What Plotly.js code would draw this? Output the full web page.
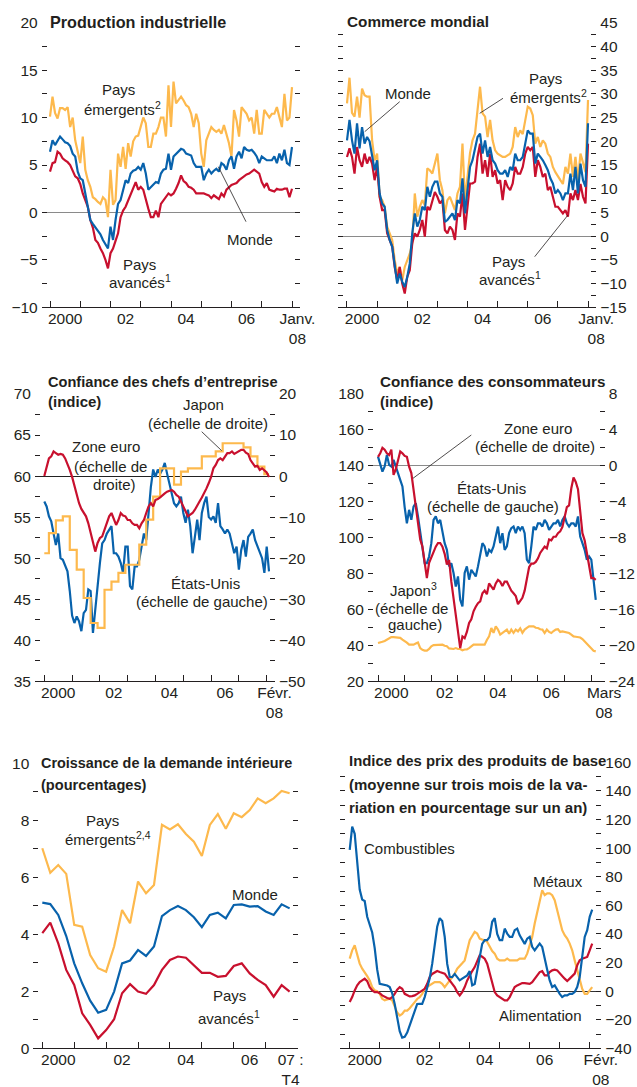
<!DOCTYPE html>
<html><head><meta charset="utf-8">
<script src="https://cdn.plot.ly/plotly-3.0.1.min.js"></script>
<style>html,body{margin:0;padding:0;background:#fff;}#chart{width:637px;height:1087px;}</style>
</head><body><div id="chart"></div>
<script>
// ---------- DATA (monthly from Jan 2000 unless noted) ----------
// Panel 1: Production industrielle (Jan 2000 - Jan 2008)
const prodEmergents = [
 10.1,12.2,10.5,9.9,11.0,11.0,10.8,11.1,9.0,10.0,7.6,6.2,
 5.2,8.0,4.5,3.4,2.7,1.6,1.4,1.1,0.9,1.6,1.3,-0.5,
 4.5,0.8,1.3,6.2,4.8,6.9,4.6,7.3,5.9,7.5,8.0,8.1,
 9.0,10.0,9.4,6.9,6.9,8.3,8.3,9.0,10.0,10.0,8.0,13.4,
 9.0,13.8,11.5,11.8,12.2,11.8,11.3,11.1,10.4,9.0,10.4,9.4,
 6.2,4.8,7.6,8.3,9.0,8.7,8.5,8.7,8.3,9.2,8.3,7.3,
 5.9,10.8,9.7,8.0,11.1,10.8,10.4,9.7,10.0,8.3,10.8,8.3,
 8.3,10.8,10.4,10.0,10.4,10.4,11.1,10.0,9.0,12.5,9.7,10.0,
 13.2];
const prodMonde = [
 6.4,7.6,7.1,7.5,8.0,7.7,7.4,7.3,7.0,6.2,5.9,4.3,
 3.6,3.4,2.0,1.0,-0.8,-1.2,-1.6,-2.0,-2.3,-2.9,-3.3,-3.8,
 -1.5,-2.9,-0.8,0.9,1.3,2.5,3.4,3.1,4.1,4.4,4.5,4.8,
 4.5,5.2,4.1,2.4,2.7,3.0,3.2,3.1,4.1,4.5,4.6,6.2,
 4.5,5.9,6.2,6.5,6.7,6.6,6.2,6.1,6.0,5.2,4.8,4.8,
 4.8,3.4,4.1,4.5,4.1,4.4,4.6,4.3,5.2,5.0,4.5,5.5,
 5.9,4.6,5.9,6.4,5.7,6.9,6.6,6.5,6.6,6.3,5.9,5.2,
 5.9,5.7,5.5,5.5,5.5,5.9,5.2,6.2,5.5,6.6,5.2,5.0,
 6.9];
const prodAvances = [
 4.3,5.2,5.3,6.4,6.2,5.7,5.5,5.3,5.0,4.3,3.8,3.6,
 3.0,2.0,1.2,0.6,-0.8,-1.6,-2.9,-3.2,-3.8,-4.3,-5.0,-5.9,
 -4.3,-3.8,-3.0,-2.2,-0.5,0.2,0.6,1.3,2.0,2.6,3.2,2.4,
 2.7,2.4,1.3,0.4,-0.5,-0.5,0.2,-0.5,0.9,1.3,1.6,2.0,
 1.8,2.0,2.5,3.1,3.9,3.3,3.1,2.7,2.6,2.4,2.0,2.0,
 2.0,2.0,1.9,1.8,1.5,1.8,1.6,1.4,2.0,1.7,2.4,2.7,
 2.9,3.0,3.1,3.4,3.6,3.8,4.0,4.1,4.3,4.5,4.3,4.1,
 3.2,2.7,3.1,2.4,2.3,2.2,2.5,2.4,2.4,2.5,2.5,1.6,
 2.5];
// Panel 2: Commerce mondial (Jan 2000 - Jan 2008)
const tradeEmergents = [
 28.0,33.4,26.0,25.2,29.4,25.0,31.1,29.7,29.4,29.4,20.2,16.0,
 17.4,8.3,7.6,6.2,2.0,0.6,-0.8,-5.0,-7.9,-6.5,-9.3,-6.5,
 -5.0,-3.7,-1.5,9.0,4.1,6.2,7.6,6.5,14.3,13.9,13.2,15.3,
 17.4,11.8,9.7,4.8,7.6,8.3,6.9,5.5,9.0,10.4,19.5,7.6,
 12.5,17.5,20.2,21.6,26.6,31.5,25.9,25.2,20.9,24.5,20.2,18.1,
 17.4,17.0,16.7,16.7,17.0,17.4,18.8,23.0,20.9,22.3,21.5,24.5,
 27.3,26.9,25.5,19.5,20.9,18.8,20.2,19.5,17.4,16.7,14.6,13.5,
 12.5,11.8,11.0,14.6,13.2,17.4,12.5,16.7,11.8,17.4,15.5,13.5,
 28.7];
const tradeMonde = [
 20.2,24.5,20.2,17.4,23.8,18.5,23.0,19.5,20.9,20.0,17.0,13.9,
 16.0,9.0,6.9,6.2,1.3,-0.8,-2.2,-5.8,-10.0,-7.9,-9.6,-10.7,
 -8.6,-5.8,0.6,4.8,2.0,3.4,6.2,5.5,10.4,8.3,10.4,11.5,
 11.5,9.0,8.3,3.0,3.4,4.1,4.8,3.4,7.6,6.9,12.2,4.8,
 9.7,14.6,16.0,18.8,20.9,21.6,17.4,20.2,16.7,18.8,16.0,15.3,
 13.9,13.2,13.2,13.9,12.5,14.6,13.9,17.4,16.0,16.0,16.7,19.5,
 22.3,21.6,21.6,15.3,17.4,16.7,16.0,15.0,13.9,12.2,11.1,9.0,
 9.7,9.0,7.6,9.0,9.0,13.2,9.7,14.6,9.0,15.3,11.8,10.4,
 23.8];
const tradeAvances = [
 16.7,18.5,16.7,13.2,18.8,16.0,14.6,17.4,15.3,16.7,15.3,11.8,
 14.6,8.3,5.5,5.5,0.6,-0.8,-2.2,-6.5,-9.3,-6.5,-10.0,-12.1,
 -8.6,-7.2,-1.5,0.6,-0.1,1.3,3.4,-0.1,6.2,5.5,7.6,9.3,
 8.3,6.9,7.6,1.3,0.6,2.0,1.3,-0.8,4.8,4.1,9.0,1.3,
 6.2,11.1,11.1,11.5,16.7,19.5,13.2,16.0,12.5,17.4,12.5,13.9,
 11.1,11.8,7.6,11.8,10.4,9.7,11.1,14.6,13.2,13.2,14.6,17.4,
 18.8,18.1,18.8,12.5,16.0,14.6,12.5,13.2,9.7,10.4,8.3,6.2,
 6.2,5.5,4.8,5.5,4.1,9.0,7.6,9.7,7.6,11.0,8.3,6.9,
 19.5];
// Panel 3: Confiance des chefs d'entreprise (Jan 2000 - Feb 2008)
const bizEtatsUnis = [
 56.9,56.3,55.1,54.5,53.0,51.6,53.0,50.0,49.8,49.0,48.4,46.0,
 43.0,42.1,42.9,42.3,41.1,43.3,43.7,46.2,46.0,40.9,44.0,46.6,
 49.4,51.8,52.2,53.0,53.5,53.9,50.6,50.6,50.2,49.4,48.2,51.4,
 51.4,46.6,46.2,49.0,49.0,49.8,51.4,53.0,52.2,55.5,58.7,60.8,
 59.9,60.8,60.3,60.8,61.6,60.3,59.1,57.9,56.7,56.3,56.7,57.5,
 55.5,54.3,55.9,53.9,50.6,52.6,54.7,52.2,55.5,56.7,57.5,55.0,
 54.7,55.1,54.3,56.7,53.9,53.5,53.0,53.5,53.0,51.8,50.6,51.4,
 48.6,51.0,52.2,50.2,52.6,53.0,53.5,52.2,51.4,50.6,50.0,48.2,
 51.4,48.4];
const bizZoneEuro = [
 0.0,2.3,4.3,4.8,6.0,5.6,5.2,5.4,5.2,4.3,3.1,1.5,
 -0.2,-2.5,-5.0,-6.6,-8.0,-8.8,-9.8,-11.5,-13.9,-16.3,-18.4,-16.3,
 -15.1,-14.7,-13.1,-11.5,-9.8,-9.0,-10.7,-11.9,-10.7,-9.0,-9.6,-9.8,
 -10.7,-10.7,-11.5,-11.9,-11.9,-12.7,-11.5,-10.7,-9.0,-7.4,-6.6,-7.4,
 -5.8,-5.6,-5.2,-4.6,-4.2,-3.8,-3.6,-3.4,-3.8,-4.6,-5.0,-6.2,
 -7.4,-9.0,-9.8,-9.4,-9.0,-8.2,-7.0,-6.2,-5.2,-4.2,-3.0,-1.7,
 -0.2,1.9,2.7,3.9,4.3,3.9,4.8,5.6,5.6,6.0,5.4,5.7,
 6.0,6.4,6.4,5.7,5.4,3.9,3.1,2.3,2.5,1.5,1.9,1.5,
 0.9,-0.2];
const bizJapon = [
 -18.8,-18.8,-13.9,-13.9,-13.9,-10.8,-10.8,-10.8,-9.8,-9.8,-9.8,-18.0,
 -18.0,-18.0,-22.8,-22.8,-22.8,-29.7,-29.7,-29.7,-35.8,-35.8,-35.8,-37.0,
 -37.0,-37.0,-27.7,-27.7,-27.7,-25.7,-25.7,-25.7,-23.6,-23.6,-23.6,-21.6,
 -21.6,-21.6,-21.6,-21.6,-21.6,-16.7,-16.7,-16.7,-10.6,-10.6,-10.6,-5.0,
 -5.0,-5.0,1.9,1.9,1.9,1.9,1.9,1.9,-2.1,-2.1,-2.1,1.1,
 1.1,1.1,1.9,1.9,1.9,1.9,1.9,1.9,4.8,4.8,4.8,4.8,
 4.8,4.8,6.0,6.0,6.0,8.0,8.0,8.0,8.0,8.0,8.0,8.0,
 8.0,8.0,7.0,7.0,7.0,4.8,4.8,4.8,2.3,2.3,2.3,0.5,
 0.5,0.5];
// Panel 4: Confiance des consommateurs (Jan 2000 - Mar 2008)
const consEtatsUnis = [
 145.1,141.4,136.8,139.6,146.1,140.5,139.6,143.3,140.0,135.9,132.2,128.5,
 117.0,108.0,115.5,109.9,117.3,119.2,111.8,102.5,93.2,85.8,85.8,89.5,
 96.9,109.9,111.8,108.0,109.9,102.5,96.9,93.2,84.0,85.8,80.3,72.8,
 78.4,65.4,61.7,80.3,84.0,76.6,82.1,80.3,78.4,84.0,91.3,96.9,
 95.1,89.5,93.2,92.0,95.1,100.6,106.2,96.9,102.5,93.2,95.1,102.5,
 105.3,106.2,102.5,106.2,104.3,106.2,102.5,87.7,85.8,95.1,106.2,104.3,
 108.0,108.0,106.2,109.9,108.0,104.3,106.2,108.0,108.0,109.9,106.2,109.9,
 111.8,108.0,106.2,108.0,108.0,106.2,111.8,100.6,96.9,93.2,87.7,89.5,
 87.7,74.7,65.4];
const consZoneEuro = [
 1.0,1.4,2.0,1.8,1.4,1.2,1.8,-1.0,-0.4,0.8,1.6,1.4,
 1.1,1.0,-0.1,-0.8,-2.6,-4.2,-6.2,-8.2,-9.0,-10.5,-12.5,-10.8,
 -10.2,-9.5,-9.0,-8.6,-8.6,-9.0,-9.8,-11.0,-10.5,-12.9,-14.9,-16.8,
 -18.3,-20.3,-19.0,-19.2,-18.5,-17.5,-17.1,-16.2,-15.7,-15.3,-15.1,-14.2,
 -13.9,-14.3,-13.1,-13.5,-13.8,-13.1,-12.7,-12.9,-13.4,-12.9,-12.9,-13.4,
 -13.9,-14.2,-14.5,-15.4,-15.0,-14.7,-13.9,-12.6,-11.3,-10.9,-10.9,-10.7,
 -10.3,-9.7,-9.4,-9.0,-9.2,-8.2,-8.3,-7.9,-7.9,-7.5,-7.3,-6.8,
 -5.7,-4.6,-4.4,-2.5,-1.3,-1.8,-2.6,-5.5,-7.5,-8.3,-9.6,-11.2,
 -12.5,-12.5,-12.7];
const consJapon = [
 41.3,41.5,42.0,42.5,43.2,44.0,44.6,44.6,44.6,44.6,44.2,43.2,
 42.5,41.5,40.4,40.4,40.4,41.0,41.6,38.5,37.5,37.1,37.1,38.0,
 39.5,40.2,40.2,40.0,40.4,40.4,39.8,39.5,38.3,38.0,38.0,38.5,
 38.0,38.0,37.3,37.7,37.7,38.5,39.6,40.4,40.4,40.4,40.1,40.2,
 40.4,43.0,45.0,49.7,47.0,50.6,48.8,46.0,46.9,47.5,48.8,46.5,
 48.8,47.0,48.8,47.8,49.5,47.0,48.8,49.8,50.6,50.6,50.6,49.8,
 49.7,49.0,48.8,46.9,48.8,47.5,46.9,48.0,48.8,49.0,47.5,47.8,
 47.6,47.0,46.9,46.0,45.0,44.8,44.8,44.4,43.5,42.2,41.0,39.4,
 38.0,37.0,36.7];
// Panel 5: Croissance de la demande intérieure (quarterly, 2000T1 - 2007T4)
const demEmergents = [7.02,6.16,6.43,6.12,4.33,4.27,3.27,2.81,2.69,3.57,4.85,4.39,5.85,5.44,5.73,7.84,
 7.68,7.86,7.52,7.25,6.75,7.84,8.22,7.70,8.25,8.11,8.36,8.77,8.60,8.77,9.03,8.95];
const demMonde = [5.11,5.06,4.68,3.94,2.98,2.28,1.67,1.25,1.35,1.99,2.98,3.08,3.45,3.24,3.57,4.64,
 4.85,4.99,4.85,4.60,4.25,4.68,4.76,4.56,5.03,5.05,4.97,4.99,4.80,4.68,5.05,4.91];
const demAvances = [4.04,4.41,3.68,2.75,2.22,1.23,0.82,0.35,0.64,1.02,1.93,2.25,1.99,1.91,2.22,2.75,
 3.10,3.22,3.18,2.92,2.65,2.65,2.51,2.54,2.89,2.98,2.63,2.40,2.22,1.81,2.22,1.99];
// Panel 6: Indice des prix des produits de base (Jan 2000 - Feb 2008)
const priceCombustibles = [
 98.7,115.0,110.0,90.0,71.0,64.0,63.0,52.0,47.0,41.0,30.0,15.0,
 5.1,4.7,4.4,3.9,2.8,-1.5,-9.0,-20.0,-28.0,-32.5,-32.0,-29.0,
 -24.0,-18.0,-13.0,-9.0,-8.9,-8.9,-4.2,2.0,9.0,19.0,33.0,45.0,
 51.0,49.0,38.0,19.0,10.0,9.8,12.0,10.0,7.5,8.7,9.8,11.0,
 14.0,4.0,5.0,14.5,23.9,33.0,35.6,35.6,37.9,48.5,51.0,40.0,
 35.6,35.6,43.7,40.2,37.9,37.9,42.6,43.7,39.0,35.6,33.0,36.7,
 37.9,31.0,28.5,30.9,33.2,30.9,24.0,15.0,7.5,2.8,4.0,0.5,
 -1.9,-4.2,-3.0,-3.0,-1.9,-1.9,-0.7,2.8,9.8,23.9,37.9,42.6,
 51.9,57.0];
const priceMetaux = [
 22.7,28.5,32.0,26.2,19.2,15.7,13.5,10.5,7.5,2.8,0.5,0.0,
 -1.9,-5.4,-6.5,-6.0,-5.4,-6.5,-11.2,-15.0,-17.1,-15.9,-13.6,-13.6,
 -12.0,-10.1,-7.7,-5.5,-4.2,-1.9,1.6,3.0,4.0,5.1,6.3,6.3,
 6.3,5.1,2.8,5.1,7.5,9.8,12.2,15.7,18.0,19.5,21.5,28.5,
 35.6,38.5,41.4,40.2,36.7,36.0,35.6,34.4,30.9,28.0,26.2,22.7,
 21.5,21.5,21.5,22.7,21.5,21.5,21.5,21.5,22.7,22.7,22.7,26.2,
 32.0,37.9,47.3,55.4,64.8,70.6,67.1,68.3,68.3,67.1,63.6,56.6,
 49.6,42.6,39.1,36.7,33.2,28.5,21.5,14.5,7.5,1.6,-1.9,-1.9,
 0.5,2.8];
const priceAlimentation = [
 -7.7,-4.2,0.5,4.0,6.3,7.5,8.7,7.0,2.8,0.5,-0.7,-0.7,
 -1.5,-3.0,-4.2,-4.8,-5.4,-4.2,-1.9,1.0,2.8,1.6,-1.9,-3.0,
 -3.7,-3.5,-3.0,-1.9,-0.7,0.5,1.6,5.1,9.8,12.0,13.3,14.0,
 13.3,12.8,12.2,9.8,7.5,5.0,2.8,-0.7,-3.0,-0.7,2.8,7.5,
 11.0,14.0,16.8,21.5,25.0,24.0,22.7,19.2,12.2,5.1,-0.7,-3.0,
 -4.2,-5.5,-6.5,-6.5,-4.2,-0.7,2.8,4.0,4.7,5.6,5.6,5.6,
 5.1,6.3,8.7,11.0,13.3,14.0,11.0,11.0,13.3,14.5,15.0,14.5,
 12.2,10.5,8.7,7.0,8.7,10.5,12.2,18.0,21.5,22.7,23.5,23.9,
 28.5,33.2];

// tick labels
const yearTicks = [2000,2001,2002,2003,2004,2005,2006,2007,2008];
const labelsJanv = ['2000','02','04','06','Janv.<br>08'];
const labelsFevr = ['2000','02','04','06','Févr.<br>08'];
const labelsMars = ['2000','02','04','06','Mars<br>08'];
const labelsT4 = ['2000','02','04','06','07 :<br>T4'];

// ---------- helpers ----------
const W = 637, H = 1087;
const px = v => v / W, py = v => 1 - v / H;
const FONT = '"Liberation Sans", Arial, Helvetica, sans-serif';
const INK = '#231f20';
const COL = {orange: '#FDB94D', blue: '#0862AC', red: '#C8102E'};
const monthly = arr => arr.map((_, i) => 2000 + i / 12);
const quarterly = arr => arr.map((_, i) => 2000 + i / 4);

function tr(x, y, color, xa, ya, shape) {
  return {x, y, type: 'scatter', mode: 'lines', xaxis: xa, yaxis: ya,
    line: {color, width: 2.2, shape: shape || 'linear'}, hoverinfo: 'skip', showlegend: false};
}
const tickFont = {family: FONT, size: 15.5, color: INK};
function xax(l, r, range, anchor, labelPos, labels, years) {
  return {domain: [px(l), px(r)], range, anchor, showline: true, linecolor: INK, linewidth: 1,
    showgrid: false, zeroline: false, ticks: 'inside', ticklen: 0, tickangle: 0,
    tickmode: 'array', tickvals: labelPos, ticktext: labels, tickfont: tickFont, ticklabelstandoff: -3,
    minor: {tickmode: 'array', tickvals: years || yearTicks, ticks: 'inside', ticklen: 6, tickwidth: 1, tickcolor: INK, showgrid: false},
    fixedrange: true, automargin: false};
}
function yax(top, bot, range, side, anchor, dtick, mdtick, extra) {
  return Object.assign({domain: [py(bot), py(top)], range, side, anchor, showline: false, showgrid: false,
    ticks: 'inside', ticklen: 5, tickwidth: 1, tickcolor: INK, tickmode: 'linear', tick0: 0, dtick,
    minor: {dtick: mdtick, tick0: 0, ticks: 'inside', ticklen: 5, tickwidth: 1, tickcolor: INK, showgrid: false},
    tickfont: tickFont, zeroline: false, fixedrange: true, automargin: false, ticklabelstandoff: 3}, extra || {});
}

// ---------- traces ----------
const data = [
  tr(monthly(prodEmergents), prodEmergents, COL.orange, 'x', 'y'),
  tr(monthly(prodAvances), prodAvances, COL.red, 'x', 'y'),
  tr(monthly(prodMonde), prodMonde, COL.blue, 'x', 'y'),
  tr(monthly(tradeEmergents), tradeEmergents, COL.orange, 'x2', 'y2'),
  tr(monthly(tradeAvances), tradeAvances, COL.red, 'x2', 'y2'),
  tr(monthly(tradeMonde), tradeMonde, COL.blue, 'x2', 'y2'),
  tr(monthly(bizJapon), bizJapon, COL.orange, 'x3', 'y4', 'hv'),
  tr(monthly(bizZoneEuro), bizZoneEuro, COL.red, 'x3', 'y4'),
  tr(monthly(bizEtatsUnis), bizEtatsUnis, COL.blue, 'x3', 'y3'),
  tr(monthly(consJapon), consJapon, COL.orange, 'x4', 'y5'),
  tr(monthly(consZoneEuro), consZoneEuro, COL.red, 'x4', 'y6'),
  tr(monthly(consEtatsUnis), consEtatsUnis, COL.blue, 'x4', 'y5'),
  tr(quarterly(demEmergents), demEmergents, COL.orange, 'x5', 'y7'),
  tr(quarterly(demAvances), demAvances, COL.red, 'x5', 'y7'),
  tr(quarterly(demMonde), demMonde, COL.blue, 'x5', 'y7'),
  tr(monthly(priceMetaux), priceMetaux, COL.orange, 'x6', 'y8'),
  tr(monthly(priceAlimentation), priceAlimentation, COL.red, 'x6', 'y8'),
  tr(monthly(priceCombustibles), priceCombustibles, COL.blue, 'x6', 'y8'),
];

// ---------- annotations ----------
const anns = [];
function lab(text, xc, base, size, anchor, bold) {
  size = size || 15;
  anns.push({text: bold ? '<b>' + text + '</b>' : text, xref: 'paper', yref: 'paper',
    x: px(anchor === 'left' ? xc - 2 : xc), y: py(base - 0.35 * size),
    xanchor: anchor || 'center', yanchor: 'middle', showarrow: false,
    font: {family: FONT, size, color: INK}});
}
// titles
lab('Production industrielle', 50, 27.5, 16.2, 'left', true);
lab('Commerce mondial', 347.3, 26.5, 15.3, 'left', true);
lab('Confiance des chefs d’entreprise', 48.3, 386.7, 14.6, 'left', true);
lab('(indice)', 48.3, 406.7, 15, 'left', true);
lab('Confiance des consommateurs', 379.7, 386.7, 15.2, 'left', true);
lab('(indice)', 379.7, 406.7, 15, 'left', true);
lab('Croissance de la demande intérieure', 40.7, 768.3, 14.4, 'left', true);
lab('(pourcentages)', 40.7, 790, 14.6, 'left', true);
lab('Indice des prix des produits de base', 348.7, 766.7, 14.9, 'left', true);
lab('(moyenne sur trois mois de la va-', 348.7, 790, 15, 'left', true);
lab('riation en pourcentage sur un an)', 348.7, 812.7, 15, 'left', true);
// series labels
lab('Pays', 118, 95); lab('émergents<sup>2</sup>', 122, 113.3);
lab('Monde', 250, 245);
lab('Pays', 139, 269.3); lab('avancés<sup>1</sup>', 139.5, 286.7);
lab('Monde', 408.3, 98.3);
lab('Pays', 545.3, 83.3); lab('émergents<sup>2</sup>', 548, 101.7);
lab('Pays', 508, 266.7); lab('avancés<sup>1</sup>', 510, 283.3);
lab('Japon', 203.3, 410); lab('(échelle de droite)', 207.5, 428.3);
lab('Zone euro', 106.3, 451.7); lab('(échelle de', 110.8, 471.7); lab('droite)', 114, 490);
lab('États-Unis', 205, 588.3); lab('(échelle de gauche)', 202.5, 606.7);
lab('Zone euro', 538, 434); lab('(échelle de droite)', 534.7, 451.7);
lab('États-Unis', 491.3, 493.3); lab('(échelle de gauche)', 493, 511.7);
lab('Japon<sup>3</sup>', 413, 595); lab('(échelle de', 411.3, 614); lab('gauche)', 414.7, 630);
lab('Pays', 102.5, 826); lab('émergents<sup>2,4</sup>', 108.3, 843.3);
lab('Monde', 254.5, 900);
lab('Pays', 229, 1000.7); lab('avancés<sup>1</sup>', 229, 1022.7);
lab('Combustibles', 409.3, 853.3);
lab('Métaux', 558, 886.7);
lab('Alimentation', 540.2, 1020.7);

// leader lines (pixel positions of the label pointers)
const leaders = [[246, 221.7, 218.3, 166.7], [399.7, 101.7, 364.7, 131.7], [503, 98.3, 479.7, 113.3],
  [534.7, 256.7, 568, 215], [201.7, 431.7, 221.7, 450.7], [471.3, 435, 413, 478.3]];
const shapes = leaders.map(l => ({type: 'line', xref: 'paper', yref: 'paper',
  x0: px(l[0]), y0: py(l[1]), x1: px(l[2]), y1: py(l[3]), line: {color: INK, width: 0.8}}));

// ---------- layout ----------
const mid = [2000.5, 2002.5, 2004.5, 2006.5];
const layout = {
  width: W, height: H, margin: {l: 0, r: 0, t: 0, b: 0}, paper_bgcolor: '#fff', plot_bgcolor: 'rgba(0,0,0,0)',
  font: {family: FONT, color: INK}, showlegend: false,
  xaxis: xax(41.7, 300, [2000 - 8.3 / 30.25, 2008 + 8 / 30.25], 'y', mid.concat([2008.18]), labelsJanv),
  yaxis: yax(22.7, 307.3, [-10, 20], 'left', 'x', 5, 2.5, {mirror: 'ticks', zeroline: true, zerolinecolor: '#8a8a8a', zerolinewidth: 1}),
  xaxis2: xax(338, 596.3, [2000 - 9 / 30.15, 2008 + 8.3 / 30.15], 'y2', mid.concat([2008.27]), labelsJanv),
  yaxis2: yax(22.7, 307.3, [-15, 45], 'right', 'x2', 5, 2.5, {mirror: 'ticks', zeroline: true, zerolinecolor: '#8a8a8a', zerolinewidth: 1}),
  xaxis3: xax(35, 275, [2000 - 9.3 / 27.8, 2008 + 8.3 / 27.8], 'y3', mid.concat([2008.28]), labelsFevr),
  yaxis3: yax(394, 681.3, [35, 70], 'left', 'x3', 5, 2.5),
  yaxis4: yax(394, 681.3, [-50, 20], 'right', 'x3', 10, 5, {overlaying: 'y3', zeroline: true, zerolinecolor: '#222', zerolinewidth: 1}),
  xaxis4: xax(368, 604.7, [2000 - 10 / 26.67, 2008 + 13.4 / 26.67], 'y5', mid.concat([2008.48]), labelsMars),
  yaxis5: yax(394, 681.3, [20, 180], 'left', 'x4', 20, 10),
  yaxis6: yax(394, 681.3, [-24, 8], 'right', 'x4', 4, 2, {overlaying: 'y5', zeroline: true, zerolinecolor: '#8a8a8a', zerolinewidth: 1}),
  xaxis5: xax(33.3, 298.3, [2000 - 9 / 31.9, 2007 + 32.6 / 31.9], 'y7', mid.concat([2007.78]), labelsT4, yearTicks.slice(0, 8)),
  yaxis7: yax(763.3, 1048.3, [0, 10], 'left', 'x5', 2, 1, {mirror: 'ticks'}),
  xaxis6: xax(339.7, 601.3, [2000 - 10 / 30, 2008 + 11.6 / 30], 'y8', mid.concat([2008.37]), labelsFevr),
  yaxis8: yax(762.3, 1048.3, [-40, 160], 'right', 'x6', 20, 10, {mirror: 'ticks', zeroline: true, zerolinecolor: '#333', zerolinewidth: 1}),
  annotations: anns, shapes
};
Plotly.newPlot('chart', data, layout, {staticPlot: true, displayModeBar: false});
</script></body></html>
